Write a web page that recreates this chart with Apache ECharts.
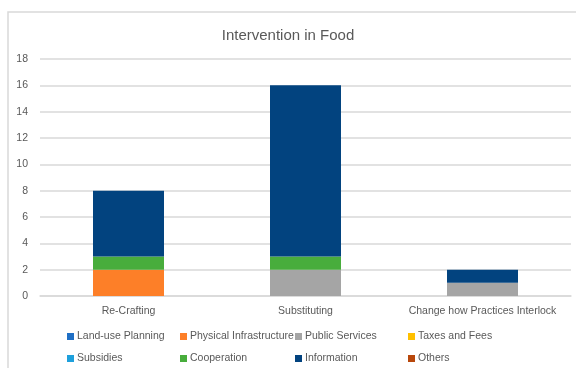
<!DOCTYPE html>
<html>
<head>
<meta charset="utf-8">
<script src="https://cdn.jsdelivr.net/npm/echarts@6/dist/echarts.min.js"></script>
<style>html,body{margin:0;padding:0;background:#fff}#c{width:576px;height:368px}</style>
</head>
<body>
<div id="c"></div>
<script>
const categories = ['Re-Crafting', 'Substituting', 'Change how Practices Interlock'];
const seriesNames = ['Land-use Planning', 'Physical Infrastructure', 'Public Services', 'Taxes and Fees', 'Subsidies', 'Cooperation', 'Information', 'Others'];
const landUse = [0, 0, 0];
const physical = [2, 0, 0];
const publicServices = [0, 2, 1];
const taxes = [0, 0, 0];
const subsidies = [0, 0, 0];
const cooperation = [1, 1, 0];
const information = [5, 13, 1];
const others = [0, 0, 0];
const yTicks = [0, 2, 4, 6, 8, 10, 12, 14, 16, 18];

const values = [landUse, physical, publicServices, taxes, subsidies, cooperation, information, others];
const colors = ['#1f6fc5', '#fd7f28', '#a5a5a5', '#ffc000', '#1ea0dc', '#48ad3c', '#02437f', '#b8470b'];
const font = 'Liberation Sans, Arial, sans-serif';
const txt = '#595959';

const chart = echarts.init(document.getElementById('c'));
const colX = [67, 180, 295, 408];
const legends = [];
for (let c = 0; c < 4; c++) {
  legends.push({
    orient: 'vertical', left: colX[c], top: 331, itemGap: 11,
    itemWidth: 7, itemHeight: 7, icon: 'rect',
    padding: 0,
    textStyle: { color: txt, fontSize: 10.5, fontFamily: font, padding: [0, 0, 0, -2] },
    data: [seriesNames[c], seriesNames[c + 4]]
  });
}
chart.setOption({
  animation: false,
  color: colors,
  title: {
    text: 'Intervention in Food', left: 'center', top: 23,
    textStyle: { color: txt, fontSize: 15, fontWeight: 'normal', fontFamily: font }
  },
  graphic: [{
    type: 'rect', shape: { x: 8, y: 12, width: 600, height: 400 },
    style: { fill: 'none', stroke: '#d9d9d9', lineWidth: 1.5 }, silent: true
  }],
  legend: legends,
  grid: { left: 40, right: 5, top: 59, bottom: 72 },
  xAxis: {
    type: 'category', data: categories,
    axisTick: { show: false },
    axisLine: { lineStyle: { color: '#d9d9d9', width: 1.5 } },
    axisLabel: { color: txt, fontSize: 10.5, fontFamily: font, margin: 10, interval: 0 }
  },
  yAxis: {
    type: 'value', min: 0, max: 18, interval: 2,
    axisLabel: { color: txt, fontSize: 10.5, fontFamily: font, margin: 12,
      formatter: v => yTicks.includes(v) ? String(v) : '' },
    splitLine: { lineStyle: { color: '#d9d9d9', width: 1.5 } },
    axisLine: { show: false }, axisTick: { show: false }
  },
  series: seriesNames.map((n, i) => ({
    name: n, type: 'bar', stack: 'total', barWidth: 71,
    data: values[i]
  }))
});
</script>
</body>
</html>
